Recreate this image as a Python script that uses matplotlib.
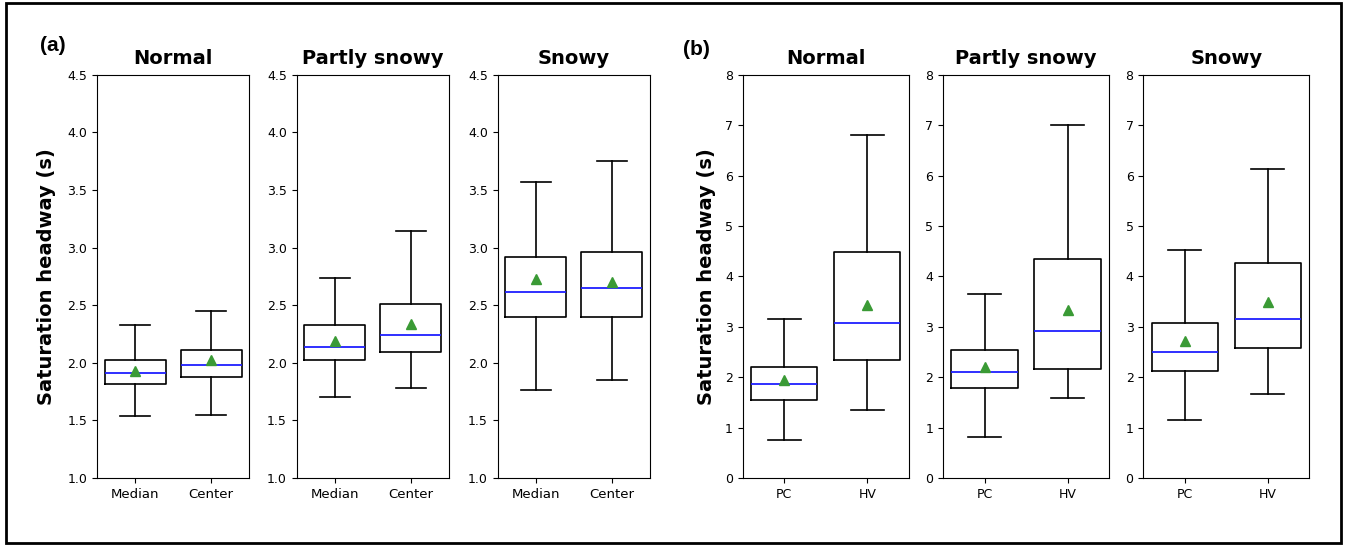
import matplotlib
matplotlib.use("Agg")
import matplotlib.pyplot as plt
from matplotlib.patches import Rectangle

# ---- data ----
conditions = ["Normal", "Partly snowy", "Snowy"]

labels_a = ["Median", "Center"]
# per condition: [Median, Center]
a_whislo = [[1.54, 1.55], [1.70, 1.78], [1.76, 1.85]]
a_q1     = [[1.82, 1.88], [2.02, 2.09], [2.40, 2.40]]
a_med    = [[1.91, 1.98], [2.14, 2.24], [2.61, 2.65]]
a_q3     = [[2.02, 2.11], [2.33, 2.51], [2.92, 2.96]]
a_whishi = [[2.33, 2.45], [2.74, 3.14], [3.57, 3.75]]
a_mean   = [[1.93, 2.02], [2.19, 2.34], [2.73, 2.70]]

labels_b = ["PC", "HV"]
b_whislo = [[0.75, 1.34], [0.81, 1.58], [1.16, 1.66]]
b_q1     = [[1.54, 2.34], [1.78, 2.16], [2.13, 2.57]]
b_med    = [[1.86, 3.08], [2.10, 2.92], [2.50, 3.15]]
b_q3     = [[2.20, 4.48], [2.53, 4.35], [3.07, 4.26]]
b_whishi = [[3.15, 6.81], [3.65, 7.01], [4.53, 6.12]]
b_mean   = [[1.94, 3.43], [2.21, 3.33], [2.71, 3.49]]

a_yticks = [1.0, 1.5, 2.0, 2.5, 3.0, 3.5, 4.0, 4.5]
b_yticks = [0, 1, 2, 3, 4, 5, 6, 7, 8]

ylabel = "Saturation headway (s)"

W, H = 1345, 545
fig = plt.figure(figsize=(W / 100, H / 100), dpi=100)

# figure frame
fig.patches.append(Rectangle((6 / W, 1 - 543 / H), (1341 - 6) / W, (543 - 3) / H,
                             transform=fig.transFigure, fill=False,
                             edgecolor="black", linewidth=2))

bottom = 1 - 478 / H
height = (478 - 74.7) / H

a_lefts = [97, 296.7, 497.7]
a_w = 152.3
b_lefts = [742.7, 943, 1143.3]
b_w = 166


def make_stats(labels, wl, q1, med, q3, wh, mean):
    return [dict(label=labels[k], whislo=wl[k], q1=q1[k], med=med[k], q3=q3[k],
                 whishi=wh[k], mean=mean[k], fliers=[]) for k in range(len(labels))]


def draw(ax, stats, ylim, yticks, title, fs_x, fs_y):
    ax.bxp(stats, showmeans=True, widths=0.8, showfliers=False,
           boxprops=dict(color="black", linewidth=1.2),
           whiskerprops=dict(color="black", linewidth=1.2),
           capprops=dict(color="black", linewidth=1.2),
           medianprops=dict(color="#1f1fff", linewidth=1.3),
           meanprops=dict(marker="^", markerfacecolor="#3a9a35",
                          markeredgecolor="#3a9a35", markersize=7))
    ax.set_ylim(*ylim)
    ax.set_yticks(yticks)
    ax.set_xlim(0.5, 2.5)
    ax.set_title(title, fontsize=14, fontweight="bold", pad=8)
    ax.tick_params(axis="x", labelsize=fs_x)
    ax.tick_params(axis="y", labelsize=fs_y)


for i, cond in enumerate(conditions):
    ax = fig.add_axes([a_lefts[i] / W, bottom, a_w / W, height])
    st = make_stats(labels_a, a_whislo[i], a_q1[i], a_med[i], a_q3[i], a_whishi[i], a_mean[i])
    draw(ax, st, (1.0, 4.5), a_yticks, cond, 9.5, 9)
    if i == 0:
        ax.set_ylabel(ylabel, fontsize=14, fontweight="bold")
        ax.yaxis.set_label_coords((56.5 - a_lefts[0]) / a_w, 0.5)

for i, cond in enumerate(conditions):
    ax = fig.add_axes([b_lefts[i] / W, bottom, b_w / W, height])
    st = make_stats(labels_b, b_whislo[i], b_q1[i], b_med[i], b_q3[i], b_whishi[i], b_mean[i])
    draw(ax, st, (0, 8), b_yticks, cond, 9, 9)
    if i == 0:
        ax.set_ylabel(ylabel, fontsize=14, fontweight="bold")
        ax.yaxis.set_label_coords((716 - b_lefts[0]) / b_w, 0.5)

fig.text(40 / W, 1 - 51 / H, "(a)", fontsize=15, fontweight="bold", family="Liberation Sans")
fig.text(683 / W, 1 - 55 / H, "(b)", fontsize=15, fontweight="bold", family="Liberation Sans")

fig.savefig("out.png", dpi=100)
